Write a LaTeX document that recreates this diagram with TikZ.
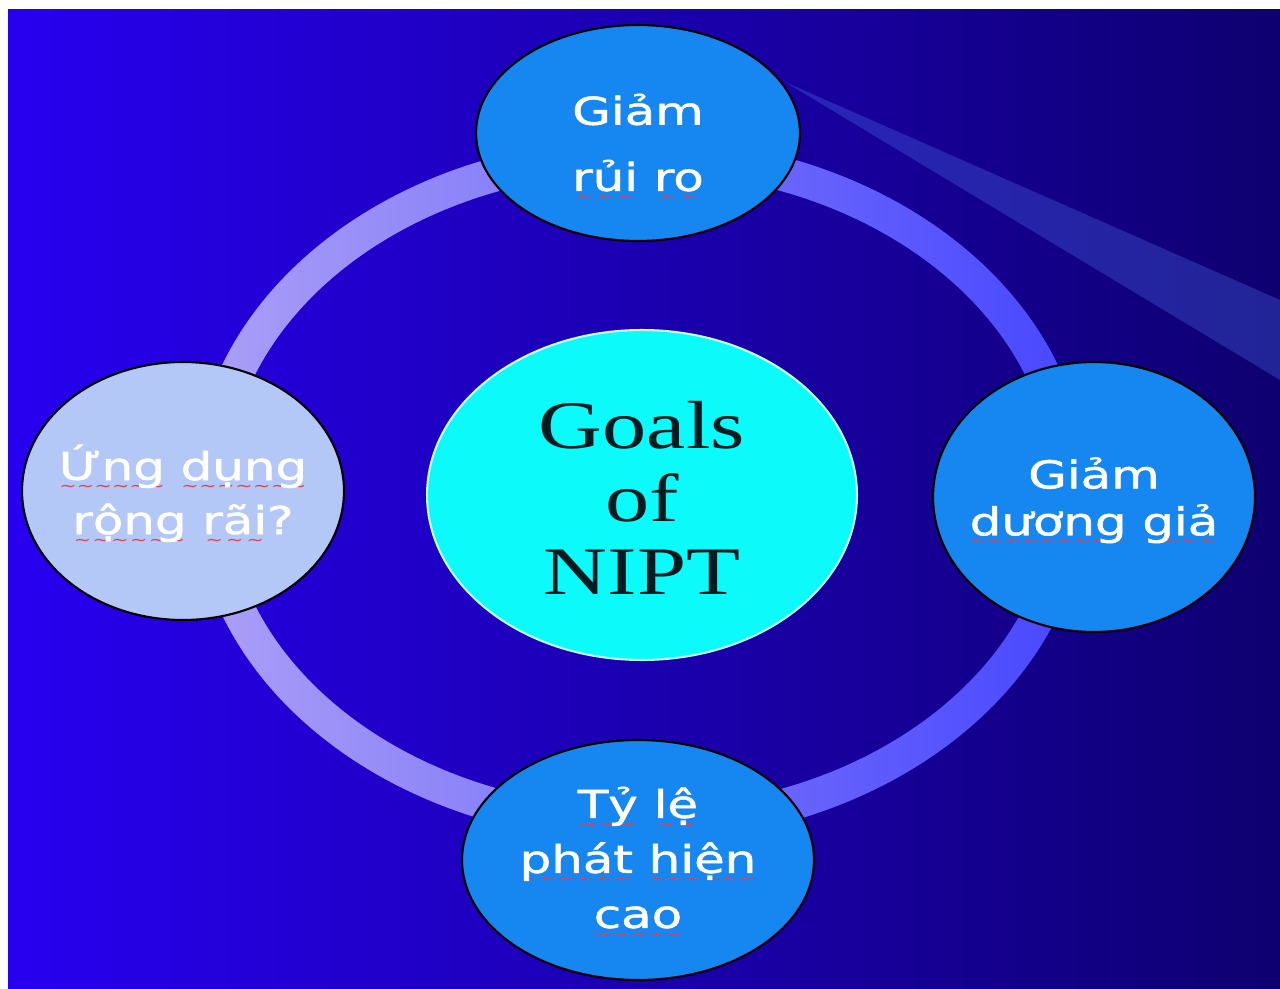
\documentclass[tikz,border=0pt]{standalone}
\usepackage{fontspec}
\setmainfont{Liberation Serif}
\newfontfamily\verd[FakeBold=1.2]{DejaVu Sans}
\newfontfamily\wavefont{DejaVu Sans}
\usetikzlibrary{positioning,calc,shapes.geometric}

\definecolor{bgl}{RGB}{40,0,240}
\definecolor{bgr}{RGB}{14,0,112}
\definecolor{ringl}{RGB}{172,160,246}
\definecolor{ringr}{RGB}{70,70,255}
\definecolor{beamc}{RGB}{80,120,240}
\definecolor{goalblue}{RGB}{22,135,240}
\definecolor{goallav}{RGB}{180,200,248}
\definecolor{goalcyan}{RGB}{12,250,250}
\definecolor{goalink}{RGB}{0,28,32}
\definecolor{squig}{RGB}{236,60,70}

% red spell-check wave under a word
\newsavebox{\spellbox}
\newcommand{\spell}[1]{\sbox{\spellbox}{#1}%
	\rlap{\textcolor{squig}{\lower6.5pt\hbox to \wd\spellbox{\wavefont\fontsize{9}{9}\selectfont\xleaders\hbox{∼}\hfill}}}%
	\usebox{\spellbox}}

\tikzset{
	goal/.style={ellipse, draw=black, line width=1.2pt, fill=goalblue, inner sep=0pt},
	goaltext/.style={text=white, align=center, inner sep=0pt, xscale=1.3,
		font=\verd\fontsize{21.8}{#1}\selectfont},
	goaltext/.default=31
}

\begin{document}
\begin{tikzpicture}[x=0.02cm, y=-0.02cm]
	\useasboundingbox (0,0) rectangle (1280,989);
	\fill[white] (0,0) rectangle (1280,989);
	\shade[left color=bgl, right color=bgr] (8,10) rectangle (1280,989);

	% light streak and ring
	\fill[beamc, opacity=0.3] (785,82) -- (1280,300) -- (1280,380) -- cycle;
	\shade[left color=ringl, right color=ringr, even odd rule]
		(640,490) ellipse [x radius=8.94cm, y radius=7.04cm]
		(640,490) ellipse [x radius=8.26cm, y radius=6.36cm];

	\node[goal, fill=goalcyan, draw=white!75!goalcyan, line width=1.2pt,
		minimum width=8.6cm, minimum height=6.6cm] (nipt) at (642,495) {};
	\node[inner sep=0pt, align=center, xscale=1.3, text=goalink,
		font=\fontsize{38.7}{41.5}\selectfont] (nipt-t) at (642,498) {Goals\\of\\NIPT};

	\node[goal, minimum width=6.48cm, minimum height=4.32cm] (risk) at (638,133) {};
	\node[goaltext=37.6] (risk-t) at (638,148) {Giảm\\\spell{rủi} \spell{ro}};

	\node[goal, minimum width=6.44cm, minimum height=5.4cm] (fpos) at (1094,497) {};
	\node[goaltext=26.7] (fpos-t) at (1094,502) {Giảm\\\spell{dương} \spell{giả}};

	\node[goal, minimum width=7.04cm, minimum height=4.8cm] (detect) at (638,860) {};
	\node[goaltext=31.3] (detect-t) at (638,863) {\spell{Tỷ} \spell{lệ}\\\spell{phát} \spell{hiện}\\\spell{cao}};

	\node[goal, fill=goallav, minimum width=6.44cm, minimum height=5.16cm] (use) at (183,491) {};
	\node[goaltext=30.7] (use-t) at (183,495) {\spell{Ứng} \spell{dụng}\\\spell{rộng} \spell{rãi}?};
\end{tikzpicture}
\end{document}
